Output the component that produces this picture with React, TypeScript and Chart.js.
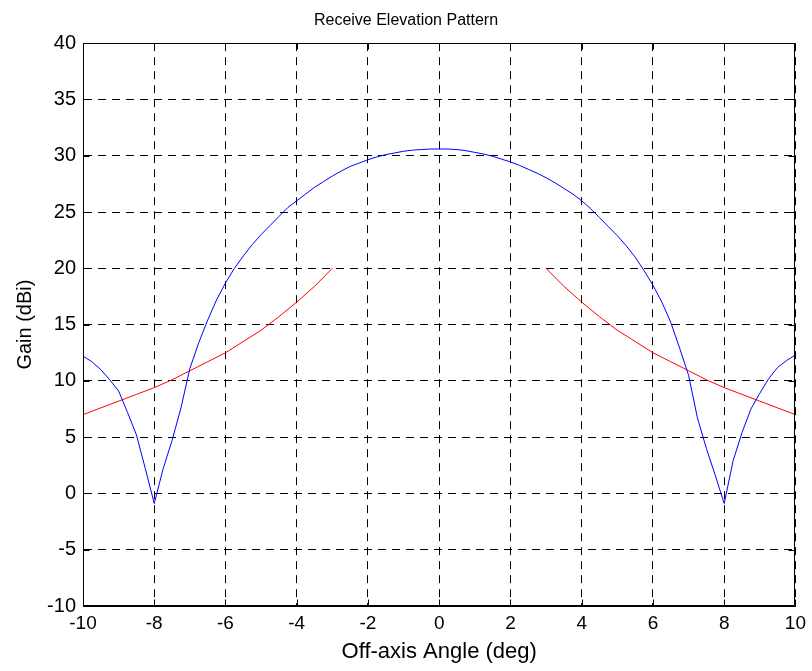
import React, { useEffect, useRef } from "react";
import { Chart, registerables } from "chart.js";

Chart.register(...registerables);

// Off-axis angles (deg) and measured receive gain (dBi)
const patternAngles = [
  -10, -9.75, -9.5, -9.25, -9, -8.75, -8.5, -8.25, -8, -7.75, -7.5, -7.25, -7,
  -6.75, -6.5, -6.25, -6, -5.75, -5.5, -5.25, -5, -4.75, -4.5, -4.25, -4,
  -3.75, -3.5, -3.25, -3, -2.75, -2.5, -2.25, -2, -1.75, -1.5, -1.25, -1, -0.75, -0.5, -0.25, 0,
  0.25, 0.5, 0.75, 1, 1.25, 1.5, 1.75, 2, 2.25, 2.5, 2.75, 3, 3.25, 3.5, 3.75, 4,
  4.25, 4.5, 4.75, 5, 5.25, 5.5, 5.75, 6, 6.25, 6.5, 6.75, 7, 7.25, 7.5,
  7.75, 8, 8.25, 8.5, 8.75, 9, 9.25, 9.5, 9.75, 10,
];
const patternGain = [
  12.2, 11.7, 11.0, 10.1, 9.1, 7.2, 5.2, 2.2, -0.9, 2.2, 4.7, 7.6, 11.1,
  13.4, 15.4, 17.2, 18.7, 20.0, 21.1, 22.1, 23.0, 23.8, 24.6, 25.4, 26.0,
  26.6, 27.2, 27.7, 28.2, 28.65, 29.05, 29.35, 29.65, 29.9, 30.1, 30.25, 30.4, 30.5, 30.55, 30.6, 30.6,
  30.6, 30.55, 30.45, 30.3, 30.15, 29.95, 29.7, 29.45, 29.15, 28.8, 28.45, 28.05, 27.6, 27.1, 26.6, 26.0,
  25.3, 24.5, 23.7, 22.9, 22.0, 21.0, 19.8, 18.5, 17.0, 15.2, 12.9, 10.5, 6.7, 4.0,
  1.6, -0.9, 2.9, 5.4, 7.5, 8.9, 10.2, 11.2, 11.8, 12.3,
];

// Mask envelope, left and right branches
const maskLeftAngles = [-10, -9.5, -9, -8.5, -8, -7.5, -7, -6.5, -6, -5.5, -5, -4.5, -4, -3.5, -3];
const maskLeftGain = [7.0, 7.6, 8.2, 8.8, 9.4, 10.1, 10.9, 11.7, 12.5, 13.5, 14.5, 15.7, 17.0, 18.4, 20.0];
const maskRightAngles = [3, 3.5, 4, 4.5, 5, 5.5, 6, 6.5, 7, 7.5, 8, 8.5, 9, 9.5, 10];
const maskRightGain = [20.0, 18.4, 17.0, 15.7, 14.5, 13.5, 12.5, 11.7, 10.9, 10.1, 9.4, 8.8, 8.2, 7.6, 7.0];

const xTicks = [-10, -8, -6, -4, -2, 0, 2, 4, 6, 8, 10];
const yTicks = [-10, -5, 0, 5, 10, 15, 20, 25, 30, 35, 40];

const titleText = "Receive Elevation Pattern";
const xLabel = "Off-axis Angle (deg)";
const yLabel = "Gain (dBi)";

const FONT = "'Liberation Sans', Arial, Helvetica, sans-serif";

const toPoints = (xs: number[], ys: number[]) => xs.map((x, i) => ({ x, y: ys[i] }));

const frame = {
  id: "frame",
  afterDatasetsDraw(chart: any) {
    const { ctx, chartArea } = chart;
    const { left, right, top, bottom } = chartArea;
    const xs = chart.scales.x;
    const ys = chart.scales.y;
    ctx.save();
    ctx.strokeStyle = "#000";
    ctx.lineWidth = 1;
    ctx.setLineDash([]);
    ctx.beginPath();
    const L = Math.round(left) + 0.5;
    const R = Math.round(right) - 0.5;
    const T = Math.round(top) + 0.5;
    const B = Math.round(bottom) - 0.5;
    ctx.rect(L, T, R - L, B - T);
    const tl = 6;
    xTicks.forEach((v) => {
      const px = Math.round(xs.getPixelForValue(v)) + 0.5;
      ctx.moveTo(px, B);
      ctx.lineTo(px, B - tl);
      ctx.moveTo(px, T);
      ctx.lineTo(px, T + tl);
    });
    yTicks.forEach((v) => {
      const py = Math.round(ys.getPixelForValue(v)) + 0.5;
      ctx.moveTo(L, py);
      ctx.lineTo(L + tl, py);
      ctx.moveTo(R, py);
      ctx.lineTo(R - tl, py);
    });
    ctx.stroke();
    ctx.restore();
  },
};

export default function App() {
  const ref = useRef<HTMLCanvasElement | null>(null);
  useEffect(() => {
    if (!ref.current) return;
    const chart = new Chart(ref.current, {
      type: "line",
      data: {
        datasets: [
          {
            label: "Receive pattern",
            data: toPoints(patternAngles, patternGain),
            borderColor: "#0000ff",
            borderWidth: 1,
            pointRadius: 0,
            tension: 0,
            fill: false,
          },
          {
            label: "Mask (left)",
            data: toPoints(maskLeftAngles, maskLeftGain),
            borderColor: "#ff0000",
            borderWidth: 1,
            pointRadius: 0,
            tension: 0,
            fill: false,
          },
          {
            label: "Mask (right)",
            data: toPoints(maskRightAngles, maskRightGain),
            borderColor: "#ff0000",
            borderWidth: 1,
            pointRadius: 0,
            tension: 0,
            fill: false,
          },
        ],
      },
      options: {
        animation: false,
        responsive: false,
        layout: { padding: { left: 0, right: 0, top: 0, bottom: 0 } },
        plugins: {
          legend: { display: false },
          tooltip: { enabled: false },
          title: {
            display: true,
            text: titleText,
            color: "#000",
            font: { family: FONT, size: 16, weight: "normal" },
            padding: { top: 11, bottom: 13 },
          },
        },
        scales: {
          x: {
            type: "linear",
            min: -10,
            max: 10,
            afterFit: (s: any) => {
              s.height = 65;
            },
            afterBuildTicks: (s: any) => {
              s.ticks = xTicks.map((v) => ({ value: v }));
            },
            ticks: {
              color: "#000",
              font: { family: FONT, size: 19 },
              padding: 6,
              maxRotation: 0,
              autoSkip: false,
            },
            grid: {
              color: "#000",
              lineWidth: 1,
              drawTicks: false,
            },
            border: { display: true, color: "#000", width: 1, dash: [8, 6] },
            title: {
              display: true,
              text: xLabel,
              color: "#000",
              font: { family: FONT, size: 22 },
              padding: { top: 0, bottom: 6 },
            },
          },
          y: {
            type: "linear",
            min: -10,
            max: 40,
            afterFit: (s: any) => {
              s.width = 83;
            },
            afterBuildTicks: (s: any) => {
              s.ticks = yTicks.map((v) => ({ value: v }));
            },
            ticks: {
              color: "#000",
              font: { family: FONT, size: 20 },
              padding: 7,
              autoSkip: false,
            },
            grid: {
              color: "#000",
              lineWidth: 1,
              drawTicks: false,
            },
            border: { display: true, color: "#000", width: 1, dash: [8, 6] },
            title: {
              display: true,
              text: yLabel,
              color: "#000",
              font: { family: FONT, size: 20 },
              padding: { top: 13, bottom: 0 },
            },
          },
          yRight: {
            type: "linear",
            position: "right",
            min: -10,
            max: 40,
            display: true,
            afterFit: (s: any) => {
              s.width = 15;
            },
            ticks: { display: false },
            grid: { display: false, drawTicks: false },
            border: { display: false },
            title: { display: false },
          },
        },
      },
      plugins: [frame],
    } as any);
    return () => chart.destroy();
  }, []);

  return (
    <canvas
      ref={ref}
      width={812}
      height={671}
      style={{ position: "absolute", left: 0, top: 0, display: "block", width: 812, height: 671 }}
    />
  );
}
